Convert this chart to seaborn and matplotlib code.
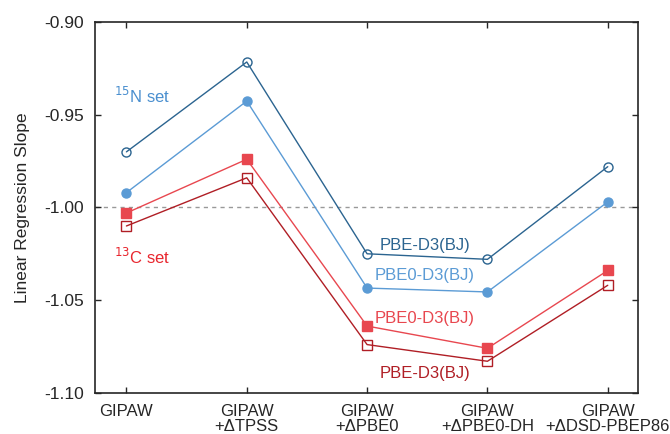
import pandas as pd
import seaborn as sns
import matplotlib.pyplot as plt

# Methods on the x axis
methods = ['GIPAW', 'GIPAW\n+ΔTPSS', 'GIPAW\n+ΔPBE0', 'GIPAW\n+ΔPBE0-DH', 'GIPAW\n+ΔDSD-PBEP86']

# Linear regression slopes
n_pbe = [-0.970, -0.9215, -1.025, -1.028, -0.978]
n_pbe0 = [-0.992, -0.9426, -1.0435, -1.0456, -0.997]
c_pbe0 = [-1.003, -0.974, -1.064, -1.076, -1.034]
c_pbe = [-1.010, -0.984, -1.074, -1.083, -1.042]

series = [
    ('N PBE-D3(BJ)', n_pbe, '#2b6490', 'o', True),
    ('N PBE0-D3(BJ)', n_pbe0, '#5b9bd5', 'o', False),
    ('C PBE0-D3(BJ)', c_pbe0, '#e8474f', 's', False),
    ('C PBE-D3(BJ)', c_pbe, '#b01e25', 's', True),
]

sns.set_style('ticks')
plt.rcParams['font.family'] = ['Liberation Sans', 'DejaVu Sans']

fig, ax = plt.subplots(figsize=(6.7, 4.34), dpi=100)

for name, vals, color, marker, hollow in series:
    df = pd.DataFrame({'x': range(len(methods)), 'y': vals})
    sns.lineplot(data=df, x='x', y='y', ax=ax, marker=marker,
                 markersize=6.5, markeredgewidth=1.0, linewidth=1.0,
                 color=color, markeredgecolor=color,
                 markerfacecolor='none' if hollow else color)

ax.axhline(-1.0, color='#999999', linestyle=(0, (3, 3)), linewidth=1.0, zorder=0)

# annotations
ax.text(-0.1, -0.940, r'$^{15}$N set', color='#4a8fcf', fontsize=12, va='center', ha='left')
ax.text(-0.1, -1.0265, r'$^{13}$C set', color='#e8262e', fontsize=12, va='center', ha='left')
ax.text(2.48, -1.0205, 'PBE-D3(BJ)', color='#2b6490', fontsize=12, ha='center', va='center')
ax.text(2.48, -1.0365, 'PBE0-D3(BJ)', color='#5b9bd5', fontsize=12, ha='center', va='center')
ax.text(2.48, -1.0600, 'PBE0-D3(BJ)', color='#e8474f', fontsize=12, ha='center', va='center')
ax.text(2.48, -1.0895, 'PBE-D3(BJ)', color='#b01e25', fontsize=12, ha='center', va='center')

ax.set_xlim(-0.26, 4.25)
ax.set_ylim(-1.10, -0.90)
ax.set_xticks(range(len(methods)))
ax.set_xticklabels(methods, fontsize=12, linespacing=1.0)
ax.set_yticks([-1.10, -1.05, -1.00, -0.95, -0.90])
ax.set_yticklabels(['-1.10', '-1.05', '-1.00', '-0.95', '-0.90'], fontsize=12.5)
ax.set_xlabel('')
ax.set_ylabel('Linear Regression Slope', fontsize=12.5, labelpad=10)
ax.tick_params(direction='in', top=True, right=True, length=4, width=1, pad=8)
for s in ax.spines.values():
    s.set_linewidth(1.2)

fig.subplots_adjust(left=0.142, right=0.952, top=0.949, bottom=0.095)
fig.savefig('out.png', dpi=100)
